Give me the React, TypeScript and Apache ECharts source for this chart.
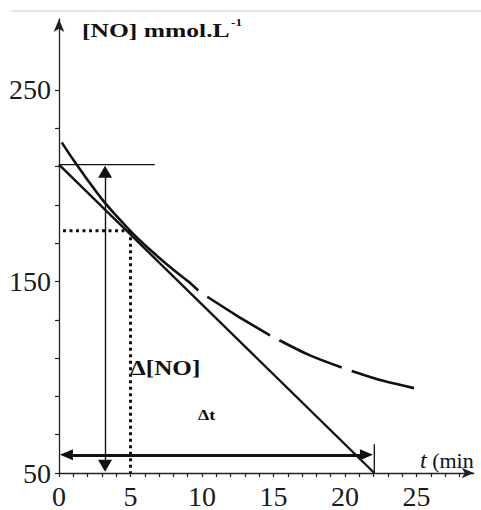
import React, { useEffect, useRef } from "react";
import * as echarts from "echarts";

// ---- data ----
const xTickValues = [0, 1, 2, 3, 4, 5, 6, 7, 8, 9, 10, 11, 12, 13, 14, 15, 16, 17, 18, 19, 20, 21, 22, 23, 24, 25, 26, 27, 28];
const xLabelValues = [0, 5, 10, 15, 20, 25];
const yTickValues = [50, 70, 90, 110, 130, 150, 170, 190, 210, 230, 250];
const yLabelValues = [50, 150, 250];

// [NO] curve: solid part then three dashes
const curveSolid = [[0.19, 222.6], [1, 213.5], [2, 203], [3, 193], [4, 184.3], [5, 176.3], [6, 169], [7, 162.4], [8, 156.1], [9, 150.2], [9.74, 145.3]];
const curveDash1 = [[10.37, 142.0], [12.43, 132.2], [14.76, 121.9]];
const curveDash2 = [[15.41, 119.3], [17.55, 111.4], [19.77, 105.1]];
const curveDash3 = [[20.47, 103.3], [22.68, 98.1], [24.83, 94.3]];

// tangent at t = 5
const tangentLine = [[0, 211], [22.05, 50]];
const topLevelLine = [[0, 211], [6.7, 211]];
const endMarkLine = [[22.05, 50], [22.05, 65]];
const dottedH = [[0.28, 176.5], [5, 176.5]];
const dottedV = [[5, 176.5], [5, 50]];

// double arrows: Δ[NO] (vertical) and Δt (horizontal)
const arrowNO = [[3.22, 207.3], [3.22, 53.8]];
const arrowT = [[0.52, 59.5], [21.5, 59.5]];

const FONT = "'Liberation Serif', 'Times New Roman', serif";
const INK = "#111";

export default function App() {
  const ref = useRef<HTMLDivElement>(null);

  useEffect(() => {
    if (!ref.current) return;
    const chart = echarts.init(ref.current, null, { renderer: "svg" });

    const lineSeries = (data: number[][], width: number, type: any = "solid", extra: any = {}) => ({
      type: "line",
      data,
      symbol: "none",
      silent: true,
      smooth: false,
      lineStyle: { color: INK, width, type },
      z: 3,
      ...extra,
    });

    const option: any = {
      animation: false,
      grid: { left: 59, right: 7.3, top: 19, bottom: 36, containLabel: false },
      xAxis: {
        type: "value",
        min: 0,
        max: 29,
        splitLine: { show: false },
        axisLine: {
          show: true,
          onZero: false,
          lineStyle: { color: "#222", width: 1.3 },
          symbol: ["none", "arrow"],
          symbolSize: [8, 12],
        },
        axisTick: {
          show: true,
          length: 4,
          customValues: xTickValues,
          lineStyle: { color: "#222", width: 1.2 },
        },
        axisLabel: {
          customValues: xLabelValues,
          fontFamily: FONT,
          fontSize: 28,
          color: "#1a1a1a",
          margin: 9,
        },
      },
      yAxis: {
        type: "value",
        min: 50,
        max: 287,
        splitLine: { show: false },
        axisLine: {
          show: true,
          onZero: false,
          lineStyle: { color: "#222", width: 1.3 },
          symbol: ["none", "arrow"],
          symbolSize: [8, 13],
        },
        axisTick: {
          show: true,
          length: 4,
          customValues: yTickValues,
          lineStyle: { color: "#222", width: 1.2 },
        },
        axisLabel: {
          customValues: yLabelValues,
          fontFamily: FONT,
          fontSize: 28,
          color: "#1a1a1a",
          margin: 8,
        },
      },
      series: [
        lineSeries(curveSolid, 2.6, "solid", { smooth: 0.3 }),
        lineSeries(curveDash1, 2.6, "solid", { smooth: 0.3 }),
        lineSeries(curveDash2, 2.6, "solid", { smooth: 0.3 }),
        lineSeries(curveDash3, 2.6, "solid", { smooth: 0.3 }),
        lineSeries(tangentLine, 2.4),
        lineSeries(topLevelLine, 1.3, "solid", {
          markLine: {
            silent: true,
            animation: false,
            label: { show: false },
            emphasis: { disabled: true },
            data: [
              [
                { coord: arrowNO[0], symbol: "triangle", symbolSize: [14, 12], lineStyle: { color: INK, width: 1.4, type: "solid" } },
                { coord: arrowNO[1], symbol: "triangle", symbolSize: [14, 12] },
              ],
              [
                { coord: arrowT[0], symbol: "triangle", symbolSize: [11, 13], lineStyle: { color: INK, width: 3, type: "solid" } },
                { coord: arrowT[1], symbol: "triangle", symbolSize: [11, 13] },
              ],
            ],
            itemStyle: { color: INK },
          },
        }),
        lineSeries(endMarkLine, 1.3),
        lineSeries(dottedH, 3, [3, 3.5]),
        lineSeries(dottedV, 3, [3, 3.5]),
      ],
      graphic: [
        {
          type: "line",
          shape: { x1: 12, y1: 11, x2: 481, y2: 11 },
          style: { stroke: "#dcdcdc", lineWidth: 1.5 },
          silent: true,
        },
        {
          type: "text",
          x: 82,
          y: 31,
          scaleX: 1.42,
          style: {
            text: "[NO] mmol.L",
            font: `bold 18px ${FONT}`,
            fill: INK,
            textVerticalAlign: "middle",
          },
        },
        {
          type: "text",
          x: 231,
          y: 22.5,
          scaleX: 1.2,
          style: {
            text: "-1",
            font: `bold 11px ${FONT}`,
            fill: INK,
            textVerticalAlign: "middle",
          },
        },
        {
          type: "text",
          x: 130,
          y: 368,
          scaleX: 1.26,
          style: {
            text: "Δ[NO]",
            font: `bold 20px ${FONT}`,
            fill: INK,
            textVerticalAlign: "middle",
          },
        },
        {
          type: "text",
          x: 198,
          y: 415,
          scaleX: 1.2,
          style: {
            text: "Δt",
            font: `bold 15px ${FONT}`,
            fill: INK,
            textVerticalAlign: "middle",
          },
        },
        {
          type: "text",
          x: 420,
          y: 460,
          style: {
            text: "{i|t} {r|(min}",
            fill: INK,
            textVerticalAlign: "middle",
            font: `22px ${FONT}`,
            rich: {
              i: { fontFamily: FONT, fontSize: 24, fontStyle: "italic", fill: INK },
              r: { fontFamily: FONT, fontSize: 22, fill: INK },
            },
          },
        },
      ],
    };

    chart.setOption(option);
    return () => chart.dispose();
  }, []);

  return (
    <div
      ref={ref}
      style={{ position: "fixed", left: 0, top: 0, width: 481, height: 510, background: "#fff" }}
    />
  );
}
